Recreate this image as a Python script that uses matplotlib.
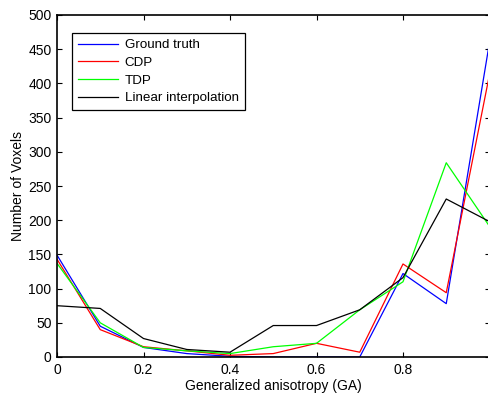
import numpy as np
import matplotlib.pyplot as plt

plt.rcParams['font.family'] = ['Liberation Sans', 'DejaVu Sans']
plt.rcParams['font.size'] = 10

# GA bins
ga = [0.0, 0.1, 0.2, 0.3, 0.4, 0.5, 0.6, 0.7, 0.8, 0.9, 1.0]

ground_truth = [149, 45, 14, 5, 1, 0, 0, 0, 122, 78, 460]
cdp = [143, 40, 15, 9, 2.5, 5, 20, 7, 136, 94, 413]
tdp = [137, 50, 14, 9, 5, 15, 20, 69, 110, 284, 191]
linear = [75, 71, 27, 11, 7, 46, 46, 69, 116, 231, 198]

fig = plt.figure(figsize=(4.88, 3.96), dpi=100)
ax = fig.add_axes([57 / 488, 39 / 396, 432.5 / 488, 342 / 396])

ax.plot(ga, ground_truth, color=(0, 0, 1), lw=0.9, label='Ground truth')
ax.plot(ga, cdp, color=(1, 0, 0), lw=0.9, label='CDP')
ax.plot(ga, tdp, color=(0, 1, 0), lw=0.9, label='TDP')
ax.plot(ga, linear, color='black', lw=0.9, label='Linear interpolation')

ax.set_xlim(0, 1)
ax.set_ylim(0, 500)
ax.set_xticks([0, 0.2, 0.4, 0.6, 0.8, 1.0])
ax.set_xticklabels(['0', '0.2', '0.4', '0.6', '0.8', ''])
ax.set_yticks(np.arange(0, 501, 50))
ax.tick_params(direction='in', top=True, right=True, length=3.5, width=0.8,
               labelsize=10, pad=4)
for s in ax.spines.values():
    s.set_linewidth(1.2)

ax.set_xlabel('Generalized anisotropy (GA)', fontsize=10, labelpad=2)
ax.set_ylabel('Number of Voxels', fontsize=10, labelpad=2)

leg = ax.legend(loc='upper left', bbox_to_anchor=(0.035, 0.947), fontsize=9.6,
                fancybox=False, framealpha=1, edgecolor='black',
                handlelength=3.0, borderpad=0.45, labelspacing=0.4,
                handletextpad=0.5, borderaxespad=0)
leg.get_frame().set_linewidth(0.9)

fig.savefig('out.png', dpi=100)
